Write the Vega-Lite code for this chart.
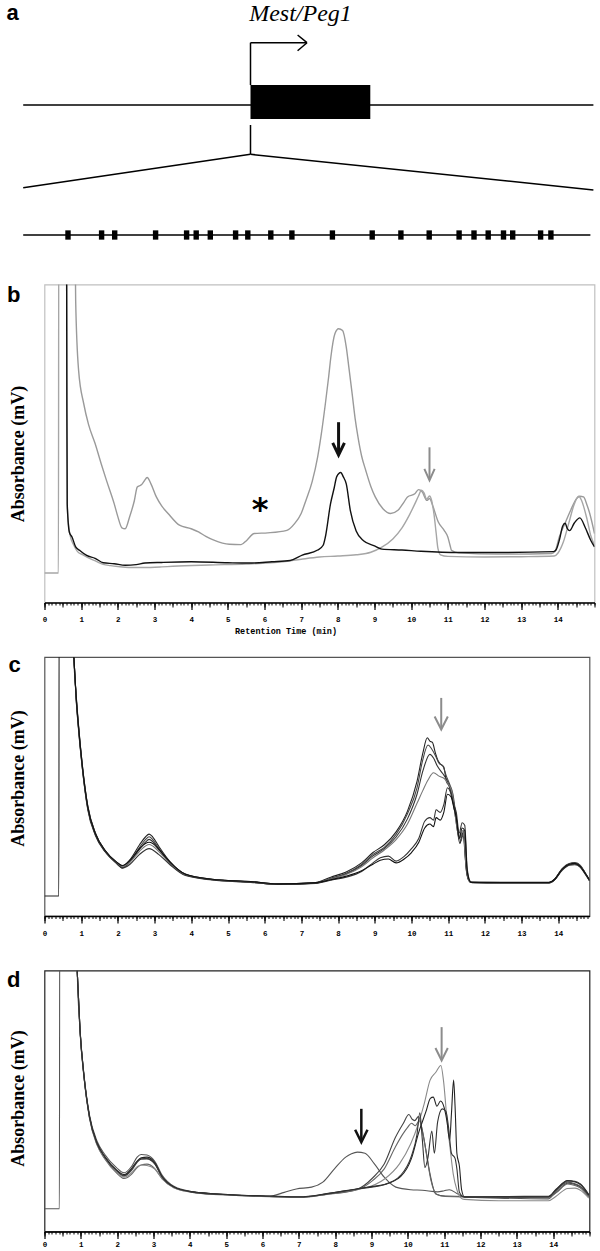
{
"$schema": "https://vega.github.io/schema/vega-lite/v6.json",
"background": "white",
"padding": {"left": 5.5, "top": 0, "right": 0, "bottom": 0},
"autosize": {"type": "pad"},
"spacing": 54.5,
"bounds": "flush",
"config": {
  "view": {"stroke": null},
  "axis": {"grid": false, "labelFont": "Liberation Mono", "labelFontWeight": "bold", "labelFontSize": 7.5, "labelColor": "#000", "tickColor": "#000", "domainColor": "#000", "titleColor": "#000"}
},
"datasets": {
"b_curves": [
{"s":"b1g","t":0.82,"v":130},{"s":"b1g","t":0.85,"v":95},{"s":"b1g","t":0.93,"v":73},{"s":"b1g","t":1.07,"v":62.5},{"s":"b1g","t":1.2,"v":56},{"s":"b1g","t":1.38,"v":50},{"s":"b1g","t":1.55,"v":43.5},{"s":"b1g","t":1.69,"v":38.4},{"s":"b1g","t":1.9,"v":31.1},{"s":"b1g","t":2.0,"v":27},{"s":"b1g","t":2.11,"v":23.5},{"s":"b1g","t":2.2,"v":23.2},{"s":"b1g","t":2.32,"v":26.9},{"s":"b1g","t":2.45,"v":32},{"s":"b1g","t":2.53,"v":36.3},{"s":"b1g","t":2.64,"v":37},{"s":"b1g","t":2.72,"v":38.2},{"s":"b1g","t":2.8,"v":39.3},{"s":"b1g","t":2.9,"v":37.4},{"s":"b1g","t":3.05,"v":33.2},{"s":"b1g","t":3.2,"v":30.3},{"s":"b1g","t":3.37,"v":28},{"s":"b1g","t":3.68,"v":24.3},{"s":"b1g","t":4.0,"v":23.2},{"s":"b1g","t":4.2,"v":22.2},{"s":"b1g","t":4.4,"v":20.8},{"s":"b1g","t":4.62,"v":19.6},{"s":"b1g","t":5.04,"v":18.3},{"s":"b1g","t":5.36,"v":18.2},{"s":"b1g","t":5.52,"v":19.6},{"s":"b1g","t":5.72,"v":21.7},{"s":"b1g","t":6.09,"v":21.9},{"s":"b1g","t":6.61,"v":22.7},{"s":"b1g","t":6.82,"v":24.8},{"s":"b1g","t":7.0,"v":28},{"s":"b1g","t":7.13,"v":32.1},{"s":"b1g","t":7.3,"v":38},{"s":"b1g","t":7.45,"v":45.8},{"s":"b1g","t":7.55,"v":53},{"s":"b1g","t":7.66,"v":62.5},{"s":"b1g","t":7.75,"v":71},{"s":"b1g","t":7.81,"v":77.2},{"s":"b1g","t":7.92,"v":84.5},{"s":"b1g","t":8.02,"v":86.1},{"s":"b1g","t":8.13,"v":85.5},{"s":"b1g","t":8.23,"v":80.3},{"s":"b1g","t":8.3,"v":74},{"s":"b1g","t":8.39,"v":65.7},{"s":"b1g","t":8.47,"v":58},{"s":"b1g","t":8.55,"v":52},{"s":"b1g","t":8.65,"v":46},{"s":"b1g","t":8.76,"v":41.6},{"s":"b1g","t":8.9,"v":36.5},{"s":"b1g","t":9.02,"v":33.2},{"s":"b1g","t":9.23,"v":29.5},{"s":"b1g","t":9.44,"v":28},{"s":"b1g","t":9.64,"v":29},{"s":"b1g","t":9.8,"v":31.5},{"s":"b1g","t":9.9,"v":33.2},{"s":"b1g","t":10.1,"v":34.2},{"s":"b1g","t":10.2,"v":35.5},{"s":"b1g","t":10.3,"v":34.8},{"s":"b1g","t":10.43,"v":32.1},{"s":"b1g","t":10.5,"v":32.7},{"s":"b1g","t":10.6,"v":30},{"s":"b1g","t":10.74,"v":25.3},{"s":"b1g","t":10.9,"v":22.7},{"s":"b1g","t":11.0,"v":20.6},{"s":"b1g","t":11.06,"v":18},{"s":"b1g","t":11.1,"v":16.4},{"s":"b1g","t":11.3,"v":15.6},{"s":"b1g","t":12.36,"v":15.2},{"s":"b1g","t":13.83,"v":15.4},{"s":"b1g","t":13.92,"v":16},{"s":"b1g","t":14.04,"v":20.6},{"s":"b1g","t":14.2,"v":25},{"s":"b1g","t":14.35,"v":29},{"s":"b1g","t":14.5,"v":32.5},{"s":"b1g","t":14.6,"v":33.4},{"s":"b1g","t":14.7,"v":33.2},{"s":"b1g","t":14.8,"v":30.5},{"s":"b1g","t":14.87,"v":28},{"s":"b1g","t":15.0,"v":21.7},
{"s":"b2g","t":0,"v":9.3},{"s":"b2g","t":0.38,"v":9.3},{"s":"b2g","t":0.39,"v":130},{"s":"b2g","t":0.6,"v":130},{"s":"b2g","t":0.62,"v":30},{"s":"b2g","t":0.7,"v":21},{"s":"b2g","t":0.8,"v":18},{"s":"b2g","t":0.9,"v":16},{"s":"b2g","t":1.05,"v":15},{"s":"b2g","t":1.2,"v":14},{"s":"b2g","t":1.4,"v":13},{"s":"b2g","t":1.6,"v":12},{"s":"b2g","t":1.8,"v":11.6},{"s":"b2g","t":2.0,"v":11.3},{"s":"b2g","t":2.3,"v":11},{"s":"b2g","t":2.7,"v":11},{"s":"b2g","t":3.2,"v":11.2},{"s":"b2g","t":3.5,"v":11.4},{"s":"b2g","t":4.5,"v":11.8},{"s":"b2g","t":5.5,"v":12.1},{"s":"b2g","t":6.5,"v":12.8},{"s":"b2g","t":7.0,"v":13.6},{"s":"b2g","t":7.5,"v":14.3},{"s":"b2g","t":8.0,"v":14.6},{"s":"b2g","t":8.5,"v":15},{"s":"b2g","t":8.9,"v":15.8},{"s":"b2g","t":9.2,"v":17.4},{"s":"b2g","t":9.5,"v":20},{"s":"b2g","t":9.75,"v":23.5},{"s":"b2g","t":9.95,"v":27.5},{"s":"b2g","t":10.1,"v":31},{"s":"b2g","t":10.2,"v":33.5},{"s":"b2g","t":10.28,"v":35.3},{"s":"b2g","t":10.35,"v":34.5},{"s":"b2g","t":10.42,"v":32.5},{"s":"b2g","t":10.5,"v":33.5},{"s":"b2g","t":10.56,"v":32},{"s":"b2g","t":10.62,"v":28},{"s":"b2g","t":10.68,"v":22},{"s":"b2g","t":10.73,"v":17},{"s":"b2g","t":10.8,"v":15},{"s":"b2g","t":11.0,"v":14.5},{"s":"b2g","t":12.0,"v":14.3},{"s":"b2g","t":13.0,"v":14.4},{"s":"b2g","t":13.9,"v":14.6},{"s":"b2g","t":14.0,"v":15.5},{"s":"b2g","t":14.15,"v":19},{"s":"b2g","t":14.3,"v":25},{"s":"b2g","t":14.45,"v":31},{"s":"b2g","t":14.57,"v":33.4},{"s":"b2g","t":14.65,"v":32},{"s":"b2g","t":14.8,"v":26},{"s":"b2g","t":14.9,"v":21},{"s":"b2g","t":15.0,"v":18},
{"s":"b3k","t":0.6,"v":130},{"s":"b3k","t":0.61,"v":60},{"s":"b3k","t":0.62,"v":31},{"s":"b3k","t":0.68,"v":22},{"s":"b3k","t":0.75,"v":20.6},{"s":"b3k","t":0.85,"v":17.5},{"s":"b3k","t":0.96,"v":16.4},{"s":"b3k","t":1.15,"v":14.8},{"s":"b3k","t":1.38,"v":13.9},{"s":"b3k","t":1.6,"v":12.5},{"s":"b3k","t":1.9,"v":12.2},{"s":"b3k","t":2.2,"v":11.7},{"s":"b3k","t":2.5,"v":11.9},{"s":"b3k","t":2.74,"v":12.4},{"s":"b3k","t":3.2,"v":12.6},{"s":"b3k","t":4.0,"v":12.8},{"s":"b3k","t":5.0,"v":12.5},{"s":"b3k","t":5.56,"v":12.4},{"s":"b3k","t":6.2,"v":12.8},{"s":"b3k","t":6.7,"v":13.2},{"s":"b3k","t":7.03,"v":14.9},{"s":"b3k","t":7.45,"v":16.5},{"s":"b3k","t":7.6,"v":18},{"s":"b3k","t":7.66,"v":20.6},{"s":"b3k","t":7.8,"v":31},{"s":"b3k","t":7.9,"v":36},{"s":"b3k","t":7.97,"v":39.6},{"s":"b3k","t":8.08,"v":40.9},{"s":"b3k","t":8.15,"v":39.5},{"s":"b3k","t":8.23,"v":37.3},{"s":"b3k","t":8.34,"v":29},{"s":"b3k","t":8.5,"v":22.5},{"s":"b3k","t":8.7,"v":19.4},{"s":"b3k","t":9.0,"v":17.8},{"s":"b3k","t":9.2,"v":16.8},{"s":"b3k","t":9.75,"v":16.5},{"s":"b3k","t":10.27,"v":16.1},{"s":"b3k","t":11.32,"v":15.7},{"s":"b3k","t":12.36,"v":15.7},{"s":"b3k","t":13.88,"v":16.0},{"s":"b3k","t":13.95,"v":16.5},{"s":"b3k","t":14.05,"v":20},{"s":"b3k","t":14.13,"v":24},{"s":"b3k","t":14.2,"v":24.9},{"s":"b3k","t":14.26,"v":23.2},{"s":"b3k","t":14.32,"v":22.6},{"s":"b3k","t":14.45,"v":25},{"s":"b3k","t":14.6,"v":26.6},{"s":"b3k","t":14.75,"v":23.5},{"s":"b3k","t":14.9,"v":19.5},{"s":"b3k","t":15.0,"v":17.5}
],
"c_curves": [
{"s":"c1","t":0,"v":7.7},{"s":"c1","t":0.39,"v":7.7},{"s":"c1","t":0.4,"v":130},{"s":"c1","t":0.78,"v":130},{"s":"c1","t":0.8,"v":100},{"s":"c1","t":0.86,"v":86},{"s":"c1","t":0.92,"v":75},{"s":"c1","t":1.03,"v":58.5},{"s":"c1","t":1.18,"v":42.5},{"s":"c1","t":1.39,"v":32},{"s":"c1","t":1.65,"v":25.3},{"s":"c1","t":1.96,"v":20.8},{"s":"c1","t":2.12,"v":19.3},{"s":"c1","t":2.33,"v":21.8},{"s":"c1","t":2.59,"v":27.5},{"s":"c1","t":2.75,"v":30.5},{"s":"c1","t":2.85,"v":31.6},{"s":"c1","t":2.95,"v":30.5},{"s":"c1","t":3.11,"v":27},{"s":"c1","t":3.42,"v":21},{"s":"c1","t":3.84,"v":16.2},{"s":"c1","t":4.57,"v":14.2},{"s":"c1","t":5.62,"v":13.3},{"s":"c1","t":6.35,"v":12.4},{"s":"c1","t":7.39,"v":12.9},{"s":"c1","t":7.8,"v":15},{"s":"c1","t":8.22,"v":17},{"s":"c1","t":8.64,"v":20.5},{"s":"c1","t":8.95,"v":24.5},{"s":"c1","t":9.26,"v":27.5},{"s":"c1","t":9.58,"v":32.5},{"s":"c1","t":9.89,"v":40.5},{"s":"c1","t":10.15,"v":52},{"s":"c1","t":10.31,"v":63},{"s":"c1","t":10.43,"v":68.8},{"s":"c1","t":10.5,"v":67.5},{"s":"c1","t":10.57,"v":67},{"s":"c1","t":10.65,"v":63},{"s":"c1","t":10.72,"v":60},{"s":"c1","t":10.8,"v":58.5},{"s":"c1","t":10.88,"v":57.5},{"s":"c1","t":10.95,"v":52},{"s":"c1","t":11.03,"v":50},{"s":"c1","t":11.1,"v":46},{"s":"c1","t":11.18,"v":40},{"s":"c1","t":11.25,"v":33},{"s":"c1","t":11.32,"v":28},{"s":"c1","t":11.38,"v":31},{"s":"c1","t":11.43,"v":30},{"s":"c1","t":11.48,"v":20},{"s":"c1","t":11.55,"v":14},{"s":"c1","t":11.65,"v":12.9},{"s":"c1","t":12.5,"v":12.9},{"s":"c1","t":13.75,"v":12.9},{"s":"c1","t":13.9,"v":14.2},{"s":"c1","t":14.1,"v":18.2},{"s":"c1","t":14.3,"v":20.3},{"s":"c1","t":14.45,"v":20.6},{"s":"c1","t":14.6,"v":19.5},{"s":"c1","t":14.72,"v":17},{"s":"c1","t":14.85,"v":13.8},
{"s":"c2","t":0.8,"v":100},{"s":"c2","t":0.86,"v":85},{"s":"c2","t":0.92,"v":74},{"s":"c2","t":1.03,"v":57.5},{"s":"c2","t":1.18,"v":41.5},{"s":"c2","t":1.39,"v":31.5},{"s":"c2","t":1.65,"v":25},{"s":"c2","t":1.96,"v":20.6},{"s":"c2","t":2.12,"v":18.9},{"s":"c2","t":2.33,"v":21.2},{"s":"c2","t":2.59,"v":26.5},{"s":"c2","t":2.75,"v":29.5},{"s":"c2","t":2.85,"v":30.6},{"s":"c2","t":2.95,"v":29.5},{"s":"c2","t":3.11,"v":26.3},{"s":"c2","t":3.42,"v":20.6},{"s":"c2","t":3.84,"v":16},{"s":"c2","t":4.57,"v":14.1},{"s":"c2","t":5.62,"v":13.2},{"s":"c2","t":6.35,"v":12.2},{"s":"c2","t":7.39,"v":12.8},{"s":"c2","t":7.8,"v":14.6},{"s":"c2","t":8.22,"v":16.5},{"s":"c2","t":8.64,"v":19.9},{"s":"c2","t":8.95,"v":23.8},{"s":"c2","t":9.26,"v":26.5},{"s":"c2","t":9.58,"v":31.5},{"s":"c2","t":9.89,"v":39.5},{"s":"c2","t":10.15,"v":49.5},{"s":"c2","t":10.31,"v":60.5},{"s":"c2","t":10.45,"v":66},{"s":"c2","t":10.55,"v":64.5},{"s":"c2","t":10.65,"v":62},{"s":"c2","t":10.75,"v":59},{"s":"c2","t":10.85,"v":58},{"s":"c2","t":10.95,"v":54},{"s":"c2","t":11.05,"v":50.5},{"s":"c2","t":11.13,"v":47},{"s":"c2","t":11.2,"v":40},{"s":"c2","t":11.28,"v":32},{"s":"c2","t":11.35,"v":29},{"s":"c2","t":11.42,"v":33},{"s":"c2","t":11.47,"v":25},{"s":"c2","t":11.53,"v":15},{"s":"c2","t":11.65,"v":13},{"s":"c2","t":12.5,"v":12.8},{"s":"c2","t":13.75,"v":12.8},{"s":"c2","t":13.9,"v":14},{"s":"c2","t":14.1,"v":18},{"s":"c2","t":14.3,"v":20},{"s":"c2","t":14.45,"v":20.3},{"s":"c2","t":14.6,"v":19.3},{"s":"c2","t":14.72,"v":16.8},{"s":"c2","t":14.85,"v":13.8},
{"s":"c3","t":0.8,"v":100},{"s":"c3","t":0.86,"v":84},{"s":"c3","t":0.92,"v":73},{"s":"c3","t":1.03,"v":57},{"s":"c3","t":1.18,"v":41},{"s":"c3","t":1.39,"v":31},{"s":"c3","t":1.65,"v":24.8},{"s":"c3","t":1.96,"v":20.4},{"s":"c3","t":2.12,"v":18.6},{"s":"c3","t":2.33,"v":20.8},{"s":"c3","t":2.59,"v":25.8},{"s":"c3","t":2.75,"v":28.5},{"s":"c3","t":2.85,"v":29.6},{"s":"c3","t":2.95,"v":28.7},{"s":"c3","t":3.11,"v":25.8},{"s":"c3","t":3.42,"v":20.4},{"s":"c3","t":3.84,"v":15.9},{"s":"c3","t":4.57,"v":14},{"s":"c3","t":5.62,"v":13.1},{"s":"c3","t":6.35,"v":12.2},{"s":"c3","t":7.39,"v":12.7},{"s":"c3","t":7.8,"v":14.4},{"s":"c3","t":8.22,"v":16.2},{"s":"c3","t":8.64,"v":19.5},{"s":"c3","t":8.95,"v":23.2},{"s":"c3","t":9.26,"v":26},{"s":"c3","t":9.58,"v":30.5},{"s":"c3","t":9.89,"v":37.5},{"s":"c3","t":10.15,"v":47},{"s":"c3","t":10.31,"v":56},{"s":"c3","t":10.5,"v":62.4},{"s":"c3","t":10.6,"v":61},{"s":"c3","t":10.7,"v":58},{"s":"c3","t":10.85,"v":55},{"s":"c3","t":10.98,"v":52},{"s":"c3","t":11.1,"v":47},{"s":"c3","t":11.2,"v":40},{"s":"c3","t":11.3,"v":30},{"s":"c3","t":11.4,"v":32},{"s":"c3","t":11.5,"v":17},{"s":"c3","t":11.6,"v":13},{"s":"c3","t":12.5,"v":12.8},{"s":"c3","t":13.75,"v":12.8},{"s":"c3","t":13.9,"v":14},{"s":"c3","t":14.1,"v":17.8},{"s":"c3","t":14.3,"v":19.8},{"s":"c3","t":14.45,"v":20.1},{"s":"c3","t":14.6,"v":19},{"s":"c3","t":14.72,"v":16.6},{"s":"c3","t":14.85,"v":13.6},
{"s":"c4","t":0.8,"v":100},{"s":"c4","t":0.86,"v":85},{"s":"c4","t":0.92,"v":74},{"s":"c4","t":1.03,"v":58},{"s":"c4","t":1.18,"v":42},{"s":"c4","t":1.39,"v":31.8},{"s":"c4","t":1.65,"v":25.2},{"s":"c4","t":1.96,"v":20.7},{"s":"c4","t":2.12,"v":19.1},{"s":"c4","t":2.33,"v":20.9},{"s":"c4","t":2.59,"v":25},{"s":"c4","t":2.75,"v":27},{"s":"c4","t":2.85,"v":27.6},{"s":"c4","t":2.95,"v":27},{"s":"c4","t":3.11,"v":25},{"s":"c4","t":3.42,"v":20.2},{"s":"c4","t":3.84,"v":15.8},{"s":"c4","t":4.57,"v":14},{"s":"c4","t":5.62,"v":13.1},{"s":"c4","t":6.35,"v":12.3},{"s":"c4","t":7.39,"v":12.8},{"s":"c4","t":7.8,"v":14.3},{"s":"c4","t":8.22,"v":16},{"s":"c4","t":8.64,"v":19},{"s":"c4","t":8.95,"v":22.5},{"s":"c4","t":9.26,"v":25.5},{"s":"c4","t":9.58,"v":29.5},{"s":"c4","t":9.89,"v":35.5},{"s":"c4","t":10.15,"v":43.5},{"s":"c4","t":10.31,"v":48.5},{"s":"c4","t":10.45,"v":52.5},{"s":"c4","t":10.6,"v":55.3},{"s":"c4","t":10.75,"v":54},{"s":"c4","t":10.9,"v":53},{"s":"c4","t":11.0,"v":51},{"s":"c4","t":11.1,"v":48},{"s":"c4","t":11.2,"v":38},{"s":"c4","t":11.3,"v":30},{"s":"c4","t":11.4,"v":33},{"s":"c4","t":11.5,"v":18},{"s":"c4","t":11.6,"v":13},{"s":"c4","t":12.5,"v":12.9},{"s":"c4","t":13.75,"v":12.9},{"s":"c4","t":13.9,"v":14.1},{"s":"c4","t":14.1,"v":18},{"s":"c4","t":14.3,"v":20},{"s":"c4","t":14.45,"v":20.4},{"s":"c4","t":14.6,"v":19.3},{"s":"c4","t":14.72,"v":16.8},{"s":"c4","t":14.85,"v":13.9},
{"s":"c5","t":0.8,"v":100},{"s":"c5","t":0.86,"v":84.5},{"s":"c5","t":0.92,"v":73.5},{"s":"c5","t":1.03,"v":57.5},{"s":"c5","t":1.18,"v":41.5},{"s":"c5","t":1.39,"v":31.3},{"s":"c5","t":1.65,"v":25},{"s":"c5","t":1.96,"v":20.3},{"s":"c5","t":2.12,"v":18.5},{"s":"c5","t":2.33,"v":20},{"s":"c5","t":2.59,"v":23.8},{"s":"c5","t":2.75,"v":25.5},{"s":"c5","t":2.85,"v":26},{"s":"c5","t":2.95,"v":25.5},{"s":"c5","t":3.11,"v":23.8},{"s":"c5","t":3.42,"v":19.8},{"s":"c5","t":3.84,"v":15.6},{"s":"c5","t":4.57,"v":13.9},{"s":"c5","t":5.62,"v":13},{"s":"c5","t":6.35,"v":12.2},{"s":"c5","t":7.39,"v":12.6},{"s":"c5","t":7.8,"v":13.8},{"s":"c5","t":8.22,"v":15},{"s":"c5","t":8.64,"v":17.2},{"s":"c5","t":8.95,"v":20.5},{"s":"c5","t":9.15,"v":22.5},{"s":"c5","t":9.37,"v":23.1},{"s":"c5","t":9.58,"v":21.2},{"s":"c5","t":9.8,"v":23},{"s":"c5","t":10.0,"v":26},{"s":"c5","t":10.2,"v":30},{"s":"c5","t":10.36,"v":36.6},{"s":"c5","t":10.5,"v":38},{"s":"c5","t":10.6,"v":37},{"s":"c5","t":10.67,"v":41},{"s":"c5","t":10.78,"v":40},{"s":"c5","t":10.88,"v":43},{"s":"c5","t":10.98,"v":49.5},{"s":"c5","t":11.08,"v":47},{"s":"c5","t":11.15,"v":43},{"s":"c5","t":11.22,"v":40},{"s":"c5","t":11.3,"v":32},{"s":"c5","t":11.38,"v":36},{"s":"c5","t":11.45,"v":35},{"s":"c5","t":11.52,"v":18},{"s":"c5","t":11.62,"v":13},{"s":"c5","t":12.5,"v":12.9},{"s":"c5","t":13.75,"v":12.9},{"s":"c5","t":13.9,"v":14},{"s":"c5","t":14.1,"v":17.5},{"s":"c5","t":14.3,"v":19.6},{"s":"c5","t":14.45,"v":19.8},{"s":"c5","t":14.6,"v":18.8},{"s":"c5","t":14.72,"v":16.4},{"s":"c5","t":14.85,"v":13.6},
{"s":"c6","t":0.8,"v":100},{"s":"c6","t":0.86,"v":85.5},{"s":"c6","t":0.92,"v":74.5},{"s":"c6","t":1.03,"v":58.2},{"s":"c6","t":1.18,"v":42.2},{"s":"c6","t":1.39,"v":31.8},{"s":"c6","t":1.65,"v":25.4},{"s":"c6","t":1.96,"v":20.9},{"s":"c6","t":2.12,"v":19.5},{"s":"c6","t":2.33,"v":21.5},{"s":"c6","t":2.59,"v":26},{"s":"c6","t":2.75,"v":28},{"s":"c6","t":2.85,"v":28.5},{"s":"c6","t":2.95,"v":28},{"s":"c6","t":3.11,"v":25.8},{"s":"c6","t":3.42,"v":20.8},{"s":"c6","t":3.84,"v":16.1},{"s":"c6","t":4.57,"v":14.2},{"s":"c6","t":5.62,"v":13.3},{"s":"c6","t":6.35,"v":12.4},{"s":"c6","t":7.39,"v":12.9},{"s":"c6","t":7.8,"v":14},{"s":"c6","t":8.22,"v":15.4},{"s":"c6","t":8.64,"v":17.5},{"s":"c6","t":8.95,"v":20},{"s":"c6","t":9.15,"v":21.5},{"s":"c6","t":9.37,"v":22},{"s":"c6","t":9.58,"v":20.5},{"s":"c6","t":9.8,"v":22},{"s":"c6","t":10.0,"v":24.5},{"s":"c6","t":10.2,"v":28.5},{"s":"c6","t":10.36,"v":34},{"s":"c6","t":10.5,"v":35.5},{"s":"c6","t":10.6,"v":34.5},{"s":"c6","t":10.67,"v":38},{"s":"c6","t":10.78,"v":37},{"s":"c6","t":10.88,"v":40},{"s":"c6","t":10.98,"v":47},{"s":"c6","t":11.08,"v":46},{"s":"c6","t":11.15,"v":42},{"s":"c6","t":11.22,"v":38},{"s":"c6","t":11.3,"v":30},{"s":"c6","t":11.38,"v":34},{"s":"c6","t":11.45,"v":33},{"s":"c6","t":11.52,"v":17},{"s":"c6","t":11.62,"v":13},{"s":"c6","t":12.5,"v":13},{"s":"c6","t":13.75,"v":13},{"s":"c6","t":13.9,"v":14.2},{"s":"c6","t":14.1,"v":18},{"s":"c6","t":14.3,"v":20},{"s":"c6","t":14.45,"v":20.3},{"s":"c6","t":14.6,"v":19.2},{"s":"c6","t":14.72,"v":16.8},{"s":"c6","t":14.85,"v":14}
],
"d_curves": [
{"s":"d1","t":0,"v":8.7},{"s":"d1","t":0.41,"v":8.7},{"s":"d1","t":0.42,"v":130},{"s":"d1","t":0.88,"v":130},{"s":"d1","t":0.9,"v":100},{"s":"d1","t":0.98,"v":77},{"s":"d1","t":1.08,"v":61},{"s":"d1","t":1.24,"v":44.5},{"s":"d1","t":1.45,"v":34.5},{"s":"d1","t":1.66,"v":29.5},{"s":"d1","t":1.98,"v":24.5},{"s":"d1","t":2.19,"v":22.5},{"s":"d1","t":2.4,"v":25},{"s":"d1","t":2.55,"v":28.5},{"s":"d1","t":2.66,"v":29.5},{"s":"d1","t":2.82,"v":29.3},{"s":"d1","t":3.03,"v":27},{"s":"d1","t":3.24,"v":21.5},{"s":"d1","t":3.56,"v":17.3},{"s":"d1","t":4.08,"v":15.2},{"s":"d1","t":5.14,"v":14.1},{"s":"d1","t":6.19,"v":13.5},{"s":"d1","t":6.6,"v":15},{"s":"d1","t":6.93,"v":16.3},{"s":"d1","t":7.35,"v":17},{"s":"d1","t":7.66,"v":18.9},{"s":"d1","t":7.98,"v":24},{"s":"d1","t":8.29,"v":28.5},{"s":"d1","t":8.45,"v":29.8},{"s":"d1","t":8.61,"v":30.4},{"s":"d1","t":8.82,"v":30},{"s":"d1","t":9.08,"v":25.9},{"s":"d1","t":9.35,"v":20.8},{"s":"d1","t":9.67,"v":17},{"s":"d1","t":10.08,"v":16},{"s":"d1","t":10.4,"v":15.8},{"s":"d1","t":10.82,"v":15.2},{"s":"d1","t":11.0,"v":15.6},{"s":"d1","t":11.14,"v":16},{"s":"d1","t":11.35,"v":14.6},{"s":"d1","t":11.56,"v":13.2},{"s":"d1","t":12.5,"v":12.8},{"s":"d1","t":13.87,"v":12.5},{"s":"d1","t":14.08,"v":15.5},{"s":"d1","t":14.4,"v":18.9},{"s":"d1","t":14.6,"v":18.3},{"s":"d1","t":14.72,"v":17.5},{"s":"d1","t":14.98,"v":13.8},
{"s":"d2","t":0.9,"v":100},{"s":"d2","t":0.98,"v":76.5},{"s":"d2","t":1.08,"v":60.3},{"s":"d2","t":1.24,"v":43.6},{"s":"d2","t":1.45,"v":33.4},{"s":"d2","t":1.66,"v":28.3},{"s":"d2","t":1.98,"v":23.2},{"s":"d2","t":2.19,"v":21.2},{"s":"d2","t":2.4,"v":23.5},{"s":"d2","t":2.55,"v":26.5},{"s":"d2","t":2.66,"v":27.8},{"s":"d2","t":2.82,"v":28},{"s":"d2","t":3.03,"v":26},{"s":"d2","t":3.24,"v":20.8},{"s":"d2","t":3.56,"v":17},{"s":"d2","t":4.08,"v":15.1},{"s":"d2","t":5.14,"v":14},{"s":"d2","t":6.19,"v":13.4},{"s":"d2","t":7.03,"v":13.1},{"s":"d2","t":7.77,"v":14.3},{"s":"d2","t":8.61,"v":16.2},{"s":"d2","t":9.03,"v":20.5},{"s":"d2","t":9.35,"v":25.9},{"s":"d2","t":9.66,"v":36.1},{"s":"d2","t":9.87,"v":41.3},{"s":"d2","t":10.03,"v":44.8},{"s":"d2","t":10.12,"v":43},{"s":"d2","t":10.19,"v":42.5},{"s":"d2","t":10.29,"v":44},{"s":"d2","t":10.4,"v":38.7},{"s":"d2","t":10.5,"v":31},{"s":"d2","t":10.61,"v":22.1},{"s":"d2","t":10.77,"v":14.4},{"s":"d2","t":11.03,"v":13.6},{"s":"d2","t":12.5,"v":13.2},{"s":"d2","t":13.87,"v":13.2},{"s":"d2","t":14.08,"v":15},{"s":"d2","t":14.4,"v":18.5},{"s":"d2","t":14.6,"v":18},{"s":"d2","t":14.75,"v":17},{"s":"d2","t":14.98,"v":13.5},
{"s":"d3","t":0.9,"v":100},{"s":"d3","t":0.98,"v":76},{"s":"d3","t":1.08,"v":60},{"s":"d3","t":1.24,"v":43.2},{"s":"d3","t":1.45,"v":33},{"s":"d3","t":1.66,"v":27.8},{"s":"d3","t":1.98,"v":22.5},{"s":"d3","t":2.19,"v":20.3},{"s":"d3","t":2.4,"v":22},{"s":"d3","t":2.55,"v":24.5},{"s":"d3","t":2.66,"v":25.5},{"s":"d3","t":2.82,"v":25.8},{"s":"d3","t":3.03,"v":24.2},{"s":"d3","t":3.24,"v":20.2},{"s":"d3","t":3.56,"v":16.8},{"s":"d3","t":4.08,"v":15},{"s":"d3","t":5.14,"v":13.9},{"s":"d3","t":6.19,"v":13.3},{"s":"d3","t":7.03,"v":13},{"s":"d3","t":7.77,"v":14.2},{"s":"d3","t":8.61,"v":16},{"s":"d3","t":9.03,"v":19.5},{"s":"d3","t":9.35,"v":24},{"s":"d3","t":9.66,"v":32.5},{"s":"d3","t":9.87,"v":37.5},{"s":"d3","t":10.0,"v":40},{"s":"d3","t":10.1,"v":41.5},{"s":"d3","t":10.2,"v":40.5},{"s":"d3","t":10.32,"v":42.5},{"s":"d3","t":10.42,"v":37},{"s":"d3","t":10.52,"v":29},{"s":"d3","t":10.63,"v":20},{"s":"d3","t":10.8,"v":14.2},{"s":"d3","t":11.03,"v":13.4},{"s":"d3","t":12.5,"v":13},{"s":"d3","t":13.87,"v":13},{"s":"d3","t":14.08,"v":14.8},{"s":"d3","t":14.4,"v":18.2},{"s":"d3","t":14.6,"v":17.6},{"s":"d3","t":14.75,"v":16.6},{"s":"d3","t":14.98,"v":13.2},
{"s":"d4","t":0.9,"v":100},{"s":"d4","t":0.98,"v":76.2},{"s":"d4","t":1.08,"v":60},{"s":"d4","t":1.24,"v":43.5},{"s":"d4","t":1.45,"v":33.3},{"s":"d4","t":1.66,"v":28.2},{"s":"d4","t":1.98,"v":23},{"s":"d4","t":2.19,"v":20.8},{"s":"d4","t":2.4,"v":22.5},{"s":"d4","t":2.55,"v":24.8},{"s":"d4","t":2.66,"v":25.5},{"s":"d4","t":2.82,"v":25.3},{"s":"d4","t":3.03,"v":24},{"s":"d4","t":3.24,"v":20.2},{"s":"d4","t":3.56,"v":16.8},{"s":"d4","t":4.08,"v":15},{"s":"d4","t":5.14,"v":13.9},{"s":"d4","t":6.19,"v":13.4},{"s":"d4","t":7.03,"v":13.1},{"s":"d4","t":7.77,"v":14.3},{"s":"d4","t":8.61,"v":16.2},{"s":"d4","t":8.82,"v":16.7},{"s":"d4","t":9.35,"v":20},{"s":"d4","t":9.77,"v":25.9},{"s":"d4","t":10.08,"v":33.6},{"s":"d4","t":10.29,"v":41.3},{"s":"d4","t":10.45,"v":48.9},{"s":"d4","t":10.61,"v":57.9},{"s":"d4","t":10.77,"v":61},{"s":"d4","t":10.91,"v":63.6},{"s":"d4","t":10.98,"v":58},{"s":"d4","t":11.08,"v":42.5},{"s":"d4","t":11.16,"v":32.3},{"s":"d4","t":11.25,"v":22},{"s":"d4","t":11.35,"v":16},{"s":"d4","t":11.45,"v":13},{"s":"d4","t":11.56,"v":12.3},{"s":"d4","t":12.5,"v":11.8},{"s":"d4","t":13.87,"v":11.8},{"s":"d4","t":14.08,"v":13.5},{"s":"d4","t":14.4,"v":16.5},{"s":"d4","t":14.6,"v":16.6},{"s":"d4","t":14.75,"v":15.8},{"s":"d4","t":14.98,"v":12.8},
{"s":"d5","t":0.9,"v":100},{"s":"d5","t":0.98,"v":76.8},{"s":"d5","t":1.08,"v":60.6},{"s":"d5","t":1.24,"v":44},{"s":"d5","t":1.45,"v":33.8},{"s":"d5","t":1.66,"v":28.7},{"s":"d5","t":1.98,"v":23.6},{"s":"d5","t":2.19,"v":21.8},{"s":"d5","t":2.4,"v":24.2},{"s":"d5","t":2.55,"v":27},{"s":"d5","t":2.66,"v":28.2},{"s":"d5","t":2.82,"v":28.5},{"s":"d5","t":3.03,"v":26.5},{"s":"d5","t":3.24,"v":21},{"s":"d5","t":3.56,"v":17.1},{"s":"d5","t":4.08,"v":15.2},{"s":"d5","t":5.14,"v":14.1},{"s":"d5","t":6.19,"v":13.6},{"s":"d5","t":7.03,"v":13.3},{"s":"d5","t":7.77,"v":14.5},{"s":"d5","t":8.61,"v":16.4},{"s":"d5","t":9.0,"v":17.2},{"s":"d5","t":9.35,"v":18},{"s":"d5","t":9.8,"v":21},{"s":"d5","t":10.1,"v":28},{"s":"d5","t":10.3,"v":38},{"s":"d5","t":10.5,"v":46},{"s":"d5","t":10.62,"v":51},{"s":"d5","t":10.7,"v":51.5},{"s":"d5","t":10.8,"v":48},{"s":"d5","t":10.9,"v":50},{"s":"d5","t":11.0,"v":47.5},{"s":"d5","t":11.08,"v":42},{"s":"d5","t":11.15,"v":35},{"s":"d5","t":11.2,"v":45},{"s":"d5","t":11.26,"v":58},{"s":"d5","t":11.3,"v":48},{"s":"d5","t":11.35,"v":30},{"s":"d5","t":11.42,"v":25},{"s":"d5","t":11.48,"v":16},{"s":"d5","t":11.56,"v":13.2},{"s":"d5","t":12.5,"v":13.2},{"s":"d5","t":13.87,"v":13.3},{"s":"d5","t":14.08,"v":16},{"s":"d5","t":14.4,"v":19.5},{"s":"d5","t":14.6,"v":19},{"s":"d5","t":14.75,"v":18},{"s":"d5","t":14.98,"v":14},
{"s":"d6","t":0.9,"v":100},{"s":"d6","t":0.98,"v":76.6},{"s":"d6","t":1.08,"v":60.4},{"s":"d6","t":1.24,"v":43.8},{"s":"d6","t":1.45,"v":33.6},{"s":"d6","t":1.66,"v":28.5},{"s":"d6","t":1.98,"v":23.4},{"s":"d6","t":2.19,"v":21.5},{"s":"d6","t":2.4,"v":24},{"s":"d6","t":2.55,"v":26.8},{"s":"d6","t":2.66,"v":27.8},{"s":"d6","t":2.82,"v":27.8},{"s":"d6","t":3.03,"v":26},{"s":"d6","t":3.24,"v":20.8},{"s":"d6","t":3.56,"v":17},{"s":"d6","t":4.08,"v":15.1},{"s":"d6","t":5.14,"v":14},{"s":"d6","t":6.19,"v":13.5},{"s":"d6","t":7.03,"v":13.2},{"s":"d6","t":7.77,"v":14.4},{"s":"d6","t":8.61,"v":16.3},{"s":"d6","t":9.0,"v":17},{"s":"d6","t":9.35,"v":17.9},{"s":"d6","t":9.8,"v":21.5},{"s":"d6","t":10.1,"v":29},{"s":"d6","t":10.25,"v":37},{"s":"d6","t":10.33,"v":45.5},{"s":"d6","t":10.4,"v":35},{"s":"d6","t":10.47,"v":24.5},{"s":"d6","t":10.55,"v":28},{"s":"d6","t":10.66,"v":38.5},{"s":"d6","t":10.73,"v":30},{"s":"d6","t":10.82,"v":42},{"s":"d6","t":10.95,"v":47},{"s":"d6","t":11.05,"v":46},{"s":"d6","t":11.12,"v":40},{"s":"d6","t":11.2,"v":30},{"s":"d6","t":11.3,"v":28},{"s":"d6","t":11.35,"v":24},{"s":"d6","t":11.42,"v":15},{"s":"d6","t":11.55,"v":13.2},{"s":"d6","t":12.5,"v":13.4},{"s":"d6","t":13.87,"v":13.5},{"s":"d6","t":14.08,"v":16.2},{"s":"d6","t":14.4,"v":19.4},{"s":"d6","t":14.6,"v":19.2},{"s":"d6","t":14.75,"v":18.2},{"s":"d6","t":14.98,"v":14.2}
]
},
"vconcat": [
{
  "width": 550, "height": 229.5,
  "layer": [
    {
      "data": {"values": [
        {"x1": -4.26, "y1": 21, "x2": 109.78, "y2": 21},
        {"x1": -4.26, "y1": 47, "x2": 109.18, "y2": 47},
        {"x1": 41.2, "y1": 25, "x2": 41.2, "y2": 30.86},
        {"x1": 41.2, "y1": 30.86, "x2": -4.26, "y2": 37.54},
        {"x1": 41.2, "y1": 30.86, "x2": 109.78, "y2": 38},
        {"x1": 41.2, "y1": 17, "x2": 41.2, "y2": 8.54},
        {"x1": 41.2, "y1": 8.54, "x2": 52.5, "y2": 8.54},
        {"x1": 50.62, "y1": 7.0, "x2": 52.5, "y2": 8.54},
        {"x1": 50.62, "y1": 10.14, "x2": 52.5, "y2": 8.54}
      ]},
      "mark": {"type": "rule", "color": "#000", "strokeWidth": 1.5},
      "encoding": {
        "x": {"field": "x1", "type": "quantitative", "scale": {"domain": [0, 110], "nice": false, "zero": false}, "axis": null},
        "x2": {"field": "x2"},
        "y": {"field": "y1", "type": "quantitative", "scale": {"domain": [0, 45.9], "reverse": true, "nice": false, "zero": false}, "axis": null},
        "y2": {"field": "y2"}
      }
    },
    {
      "data": {"values": [{"x1": 41.2, "x2": 65.16, "y1": 17, "y2": 23.8}]},
      "mark": {"type": "rect", "color": "#000"},
      "encoding": {
        "x": {"field": "x1", "type": "quantitative", "scale": {"domain": [0, 110], "nice": false, "zero": false}, "axis": null},
        "x2": {"field": "x2"},
        "y": {"field": "y1", "type": "quantitative", "scale": {"domain": [0, 45.9], "reverse": true, "nice": false, "zero": false}, "axis": null},
        "y2": {"field": "y2"}
      }
    },
    {
      "data": {"values": [
        {"p": 4.7, "lv": 47}, {"p": 11.42, "lv": 47}, {"p": 14.04, "lv": 47}, {"p": 22.22, "lv": 47}, {"p": 28.42, "lv": 47}, {"p": 30.34, "lv": 47}, {"p": 33.16, "lv": 47}, {"p": 38.22, "lv": 47}, {"p": 40.66, "lv": 47}, {"p": 45.26, "lv": 47}, {"p": 49.48, "lv": 47}, {"p": 57.58, "lv": 47}, {"p": 65.54, "lv": 47}, {"p": 71.28, "lv": 47}, {"p": 76.94, "lv": 47}, {"p": 82.92, "lv": 47}, {"p": 85.9, "lv": 47}, {"p": 88.74, "lv": 47}, {"p": 91.8, "lv": 47}, {"p": 93.64, "lv": 47}, {"p": 99.22, "lv": 47}, {"p": 101.28, "lv": 47}
      ]},
      "mark": {"type": "tick", "orient": "vertical", "thickness": 5.4, "size": 9.3, "color": "#000", "opacity": 1},
      "encoding": {
        "x": {"field": "p", "type": "quantitative", "scale": {"domain": [0, 110], "nice": false, "zero": false}, "axis": null},
        "y": {"field": "lv", "type": "quantitative", "scale": {"domain": [0, 45.9], "reverse": true, "nice": false, "zero": false}, "axis": null}
      }
    },
    {
      "data": {"values": [{"x": 51.2, "y": 4.1, "txt": "Mest/Peg1"}]},
      "mark": {"type": "text", "font": "Liberation Serif", "fontStyle": "italic", "fontSize": 24, "align": "center", "baseline": "alphabetic", "color": "#000"},
      "encoding": {
        "x": {"field": "x", "type": "quantitative", "scale": {"domain": [0, 110], "nice": false, "zero": false}, "axis": null},
        "y": {"field": "y", "type": "quantitative", "scale": {"domain": [0, 45.9], "reverse": true, "nice": false, "zero": false}, "axis": null},
        "text": {"field": "txt"}
      }
    },
    {
      "data": {"values": [{"x": -7.6, "y": 4, "txt": "a"}]},
      "mark": {"type": "text", "font": "Liberation Sans", "fontWeight": "bold", "fontSize": 22, "align": "left", "baseline": "alphabetic", "color": "#000"},
      "encoding": {
        "x": {"field": "x", "type": "quantitative", "scale": {"domain": [0, 110], "nice": false, "zero": false}, "axis": null},
        "y": {"field": "y", "type": "quantitative", "scale": {"domain": [0, 45.9], "reverse": true, "nice": false, "zero": false}, "axis": null},
        "text": {"field": "txt"}
      }
    }
  ]
},
{
  "width": 550, "height": 318,
  "view": {"stroke": "#c0c0c0", "strokeWidth": 1.2},
  "layer": [
    {
      "data": {"name": "b_curves"},
      "mark": {"type": "line", "clip": true, "interpolate": "monotone"},
      "encoding": {
        "x": {"field": "t", "type": "quantitative", "scale": {"domain": [0, 15], "nice": false, "zero": false},
              "axis": {"orient": "bottom", "values": [0,1,2,3,4,5,6,7,8,9,10,11,12,13,14], "tickSize": 7, "tickWidth": 1.2, "domainWidth": 1.3, "labelPadding": 6, "labelFlush": false, "labelOverlap": false,
                       "title": "Retention Time (min)", "titleFont": "Liberation Mono", "titleFontSize": 8.5, "titleFontWeight": "bold", "titlePadding": 3, "titleX": 241}},
        "y": {"field": "v", "type": "quantitative", "scale": {"domain": [0, 100], "nice": false, "zero": false},
              "axis": {"orient": "left", "title": "Absorbance (mV)", "labels": false, "ticks": false, "domain": false, "titleFont": "Liberation Serif", "titleFontSize": 18, "titleFontWeight": "bold", "titlePadding": 17, "titleY": 169}},
        "color": {"field": "s", "type": "nominal", "scale": {"domain": ["b1g", "b2g", "b3k"], "range": ["#9a9a9a", "#a6a6a6", "#111111"]}, "legend": null},
        "strokeWidth": {"field": "s", "type": "nominal", "scale": {"domain": ["b1g", "b2g", "b3k"], "range": [1.4, 1.4, 1.8]}, "legend": null}
      }
    },
    {
      "data": {"values": [{"a": "k", "t": 8.02, "v1": 56.7, "v2": 47}, {"a": "g", "t": 10.5, "v1": 48.8, "v2": 39}]},
      "mark": {"type": "rule"},
      "encoding": {
        "x": {"field": "t", "type": "quantitative", "scale": {"domain": [0, 15], "nice": false, "zero": false},
              "axis": {"orient": "bottom", "tickCount": 150, "tickSize": 2.5, "tickWidth": 1, "labels": false, "domain": false, "title": null}},
        "y": {"field": "v1", "type": "quantitative", "scale": {"domain": [0, 100], "nice": false, "zero": false}, "axis": null},
        "y2": {"field": "v2"},
        "color": {"field": "a", "type": "nominal", "scale": {"domain": ["k", "g"], "range": ["#111111", "#8c8c8c"]}, "legend": null},
        "strokeWidth": {"field": "a", "type": "nominal", "scale": {"domain": ["k", "g"], "range": [3, 2]}, "legend": null}
      }
    },
    {
      "data": {"values": [
        {"a": "k", "t": 7.86, "v": 50.2}, {"a": "k", "t": 8.02, "v": 46.4}, {"a": "k", "t": 8.18, "v": 50.2},
        {"a": "g", "t": 10.36, "v": 42}, {"a": "g", "t": 10.5, "v": 38.4}, {"a": "g", "t": 10.64, "v": 42}
      ]},
      "mark": {"type": "line", "strokeJoin": "miter"},
      "encoding": {
        "x": {"field": "t", "type": "quantitative", "scale": {"domain": [0, 15], "nice": false, "zero": false},
              "axis": {"orient": "bottom", "tickCount": 30, "tickSize": 4.5, "tickWidth": 1, "labels": false, "domain": false, "title": null}},
        "y": {"field": "v", "type": "quantitative", "scale": {"domain": [0, 100], "nice": false, "zero": false}, "axis": null},
        "color": {"field": "a", "type": "nominal", "scale": {"domain": ["k", "g"], "range": ["#111111", "#8c8c8c"]}, "legend": null},
        "strokeWidth": {"field": "a", "type": "nominal", "scale": {"domain": ["k", "g"], "range": [3, 2]}, "legend": null}
      }
    },
    {
      "data": {"values": [{"t": -1.023, "v": 94.4, "txt": "b"}]},
      "mark": {"type": "text", "font": "Liberation Sans", "fontWeight": "bold", "fontSize": 22, "align": "left", "baseline": "alphabetic", "color": "#000"},
      "encoding": {
        "x": {"field": "t", "type": "quantitative", "scale": {"domain": [0, 15], "nice": false, "zero": false}, "axis": null},
        "y": {"field": "v", "type": "quantitative", "scale": {"domain": [0, 100], "nice": false, "zero": false}, "axis": null},
        "text": {"field": "txt"}
      }
    },
    {
      "data": {"values": [{"t": 5.88, "v": 26, "txt": "*"}]},
      "mark": {"type": "text", "font": "DejaVu Sans", "fontWeight": "bold", "fontSize": 32, "align": "center", "baseline": "alphabetic", "color": "#000"},
      "encoding": {
        "x": {"field": "t", "type": "quantitative", "scale": {"domain": [0, 15], "nice": false, "zero": false}, "axis": null},
        "y": {"field": "v", "type": "quantitative", "scale": {"domain": [0, 100], "nice": false, "zero": false}, "axis": null},
        "text": {"field": "txt"}
      }
    }
  ],
  "resolve": {"axis": {"x": "independent", "y": "independent"}, "scale": {"color": "independent", "strokeWidth": "independent"}}
},
{
  "width": 545, "height": 259,
  "view": {"stroke": "#555555", "strokeWidth": 1.2},
  "layer": [
    {
      "data": {"name": "c_curves"},
      "mark": {"type": "line", "clip": true, "strokeWidth": 1.1, "interpolate": "monotone"},
      "encoding": {
        "x": {"field": "t", "type": "quantitative", "scale": {"domain": [0, 14.85], "nice": false, "zero": false},
              "axis": {"orient": "bottom", "values": [0,1,2,3,4,5,6,7,8,9,10,11,12,13,14], "tickSize": 7, "tickWidth": 1.2, "domainWidth": 1.3, "labelPadding": 6, "labelFlush": false, "labelOverlap": false, "title": null}},
        "y": {"field": "v", "type": "quantitative", "scale": {"domain": [0, 100], "nice": false, "zero": false},
              "axis": {"orient": "left", "title": "Absorbance (mV)", "labels": false, "ticks": false, "domain": false, "titleFont": "Liberation Serif", "titleFontSize": 18, "titleFontWeight": "bold", "titlePadding": 17, "titleY": 121}},
        "color": {"field": "s", "type": "nominal", "scale": {"domain": ["c1", "c2", "c3", "c4", "c5", "c6"], "range": ["#222222", "#444444", "#333333", "#777777", "#333333", "#111111"]}, "legend": null}
      }
    },
    {
      "data": {"values": [{"t": 10.81, "v1": 84.2, "v2": 72.5}]},
      "mark": {"type": "rule", "color": "#8c8c8c", "strokeWidth": 2},
      "encoding": {
        "x": {"field": "t", "type": "quantitative", "scale": {"domain": [0, 14.85], "nice": false, "zero": false},
              "axis": {"orient": "bottom", "tickCount": 150, "tickSize": 2.5, "tickWidth": 1, "labels": false, "domain": false, "title": null}},
        "y": {"field": "v1", "type": "quantitative", "scale": {"domain": [0, 100], "nice": false, "zero": false}, "axis": null},
        "y2": {"field": "v2"}
      }
    },
    {
      "data": {"values": [{"t": 10.63, "v": 77}, {"t": 10.81, "v": 72}, {"t": 10.99, "v": 77}]},
      "mark": {"type": "line", "color": "#8c8c8c", "strokeWidth": 2, "strokeJoin": "miter"},
      "encoding": {
        "x": {"field": "t", "type": "quantitative", "scale": {"domain": [0, 14.85], "nice": false, "zero": false},
              "axis": {"orient": "bottom", "tickCount": 30, "tickSize": 4.5, "tickWidth": 1, "labels": false, "domain": false, "title": null}},
        "y": {"field": "v", "type": "quantitative", "scale": {"domain": [0, 100], "nice": false, "zero": false}, "axis": null}
      }
    },
    {
      "data": {"values": [{"t": -0.981, "v": 94.1, "txt": "c"}]},
      "mark": {"type": "text", "font": "Liberation Sans", "fontWeight": "bold", "fontSize": 22, "align": "left", "baseline": "alphabetic", "color": "#000"},
      "encoding": {
        "x": {"field": "t", "type": "quantitative", "scale": {"domain": [0, 14.85], "nice": false, "zero": false}, "axis": null},
        "y": {"field": "v", "type": "quantitative", "scale": {"domain": [0, 100], "nice": false, "zero": false}, "axis": null},
        "text": {"field": "txt"}
      }
    }
  ],
  "resolve": {"axis": {"x": "independent", "y": "independent"}}
},
{
  "width": 545, "height": 261,
  "view": {"stroke": "#222222", "strokeWidth": 1.2},
  "layer": [
    {
      "data": {"name": "d_curves"},
      "mark": {"type": "line", "clip": true, "strokeWidth": 1.1, "interpolate": "monotone"},
      "encoding": {
        "x": {"field": "t", "type": "quantitative", "scale": {"domain": [0, 15], "nice": false, "zero": false},
              "axis": {"orient": "bottom", "values": [0,1,2,3,4,5,6,7,8,9,10,11,12,13,14], "tickSize": 7, "tickWidth": 1.2, "domainWidth": 1.3, "labelPadding": 2, "labelFlush": false, "labelOverlap": false, "title": null}},
        "y": {"field": "v", "type": "quantitative", "scale": {"domain": [0, 100], "nice": false, "zero": false},
              "axis": {"orient": "left", "title": "Absorbance (mV)", "labels": false, "ticks": false, "domain": false, "titleFont": "Liberation Serif", "titleFontSize": 18, "titleFontWeight": "bold", "titlePadding": 17, "titleY": 127.5}},
        "color": {"field": "s", "type": "nominal", "scale": {"domain": ["d1", "d2", "d3", "d4", "d5", "d6"], "range": ["#555555", "#444444", "#666666", "#8a8a8a", "#222222", "#333333"]}, "legend": null}
      }
    },
    {
      "data": {"values": [{"a": "k", "t": 8.72, "v1": 47, "v2": 35}, {"a": "g", "t": 10.93, "v1": 78.3, "v2": 66.3}]},
      "mark": {"type": "rule"},
      "encoding": {
        "x": {"field": "t", "type": "quantitative", "scale": {"domain": [0, 15], "nice": false, "zero": false},
              "axis": {"orient": "bottom", "tickCount": 150, "tickSize": 2.5, "tickWidth": 1, "labels": false, "domain": false, "title": null}},
        "y": {"field": "v1", "type": "quantitative", "scale": {"domain": [0, 100], "nice": false, "zero": false}, "axis": null},
        "y2": {"field": "v2"},
        "color": {"field": "a", "type": "nominal", "scale": {"domain": ["k", "g"], "range": ["#111111", "#8c8c8c"]}, "legend": null},
        "strokeWidth": {"field": "a", "type": "nominal", "scale": {"domain": ["k", "g"], "range": [2.5, 2]}, "legend": null}
      }
    },
    {
      "data": {"values": [
        {"a": "k", "t": 8.55, "v": 39}, {"a": "k", "t": 8.72, "v": 34.2}, {"a": "k", "t": 8.89, "v": 39},
        {"a": "g", "t": 10.76, "v": 70.3}, {"a": "g", "t": 10.93, "v": 65.5}, {"a": "g", "t": 11.1, "v": 70.3}
      ]},
      "mark": {"type": "line", "strokeJoin": "miter"},
      "encoding": {
        "x": {"field": "t", "type": "quantitative", "scale": {"domain": [0, 15], "nice": false, "zero": false},
              "axis": {"orient": "bottom", "tickCount": 30, "tickSize": 4.5, "tickWidth": 1, "labels": false, "domain": false, "title": null}},
        "y": {"field": "v", "type": "quantitative", "scale": {"domain": [0, 100], "nice": false, "zero": false}, "axis": null},
        "color": {"field": "a", "type": "nominal", "scale": {"domain": ["k", "g"], "range": ["#111111", "#8c8c8c"]}, "legend": null},
        "strokeWidth": {"field": "a", "type": "nominal", "scale": {"domain": ["k", "g"], "range": [2.5, 2]}, "legend": null}
      }
    },
    {
      "data": {"values": [{"t": -1.032, "v": 93.6, "txt": "d"}]},
      "mark": {"type": "text", "font": "Liberation Sans", "fontWeight": "bold", "fontSize": 22, "align": "left", "baseline": "alphabetic", "color": "#000"},
      "encoding": {
        "x": {"field": "t", "type": "quantitative", "scale": {"domain": [0, 15], "nice": false, "zero": false}, "axis": null},
        "y": {"field": "v", "type": "quantitative", "scale": {"domain": [0, 100], "nice": false, "zero": false}, "axis": null},
        "text": {"field": "txt"}
      }
    }
  ],
  "resolve": {"axis": {"x": "independent", "y": "independent"}, "scale": {"color": "independent", "strokeWidth": "independent"}}
}
]
}
